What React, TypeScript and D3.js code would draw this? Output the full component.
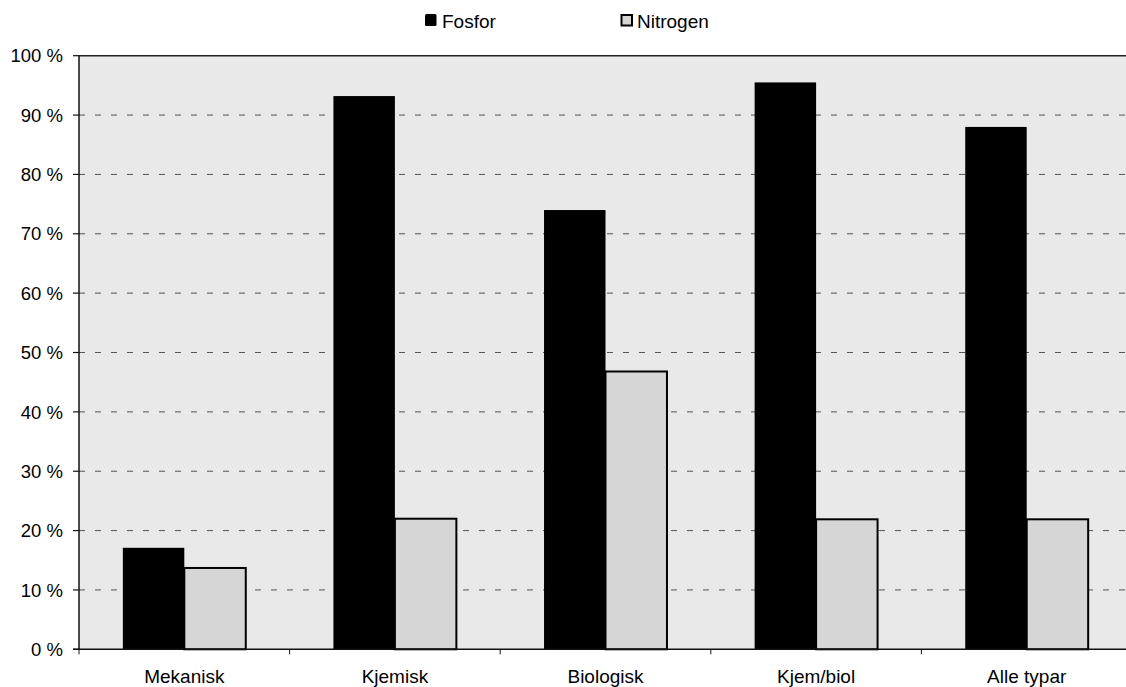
import React from "react";
import * as d3 from "d3";

const categories = ["Mekanisk", "Kjemisk", "Biologisk", "Kjem/biol", "Alle typar"];
const seriesNames = ["Fosfor", "Nitrogen"];
const fosfor = [17.1, 93.2, 74.0, 95.5, 88.0];
const nitrogen = [13.7, 22.0, 46.8, 21.9, 21.9];
const yTicks = [0, 10, 20, 30, 40, 50, 60, 70, 80, 90, 100];

const W = 1126;
const H = 687;
const left = 79;
const right = 1132;
const top = 55.7;
const bottom = 649.3;
const FONT = "'Liberation Sans', Arial, sans-serif";
const BG = "#e9e9e9";
const NFILL = "#d6d6d6";

export default function App() {
  const x = d3.scaleBand<string>().domain(categories).range([left, right]).paddingInner(0).paddingOuter(0);
  const inner = d3.scaleBand<string>().domain(seriesNames).range([0, x.bandwidth()]).paddingInner(0).paddingOuter(0.713);
  const y = d3.scaleLinear().domain([0, 100]).range([bottom, top]);
  const values: Record<string, number[]> = { Fosfor: fosfor, Nitrogen: nitrogen };

  return (
    <svg width={W} height={H} style={{ position: "absolute", left: 0, top: 0, background: "#fff" }}>
      <rect x={left} y={top} width={right - left} height={bottom - top} fill={BG} />
      {yTicks.filter((t) => t > 0 && t < 100).map((t) => (
        <line key={"g" + t} x1={left} x2={right} y1={y(t)} y2={y(t)} stroke="#555" strokeWidth={1} strokeDasharray="6 10" />
      ))}
      {categories.map((c, i) =>
        seriesNames.map((s) => {
          const v = values[s][i];
          const bx = (x(c) as number) + (inner(s) as number);
          const bw = inner.bandwidth();
          return s === "Fosfor" ? (
            <rect key={c + s} x={bx} y={y(v)} width={bw} height={bottom - y(v)} fill="#000" />
          ) : (
            <rect key={c + s} x={bx} y={y(v)} width={bw} height={bottom - y(v)} fill={NFILL} stroke="#000" strokeWidth={2} />
          );
        })
      )}
      <line x1={left} x2={right} y1={top} y2={top} stroke="#222" strokeWidth={1.5} />
      <line x1={left} x2={left} y1={top} y2={bottom} stroke="#111" strokeWidth={1.5} />
      <line x1={left - 6} x2={right} y1={bottom} y2={bottom} stroke="#111" strokeWidth={1.5} />
      {yTicks.map((t) => (
        <g key={"t" + t}>
          <line x1={left - 6} x2={left} y1={y(t)} y2={y(t)} stroke="#111" strokeWidth={1.2} />
          <text x={63} y={y(t)} dy="0.36em" textAnchor="end" fontFamily={FONT} fontSize={18.5} fill="#000">
            {t} %
          </text>
        </g>
      ))}
      {categories.map((c) => (
        <line key={"xt" + c} x1={x(c) as number} x2={x(c) as number} y1={bottom} y2={bottom + 5} stroke="#111" strokeWidth={1} />
      ))}
      {categories.map((c) => (
        <text key={"xl" + c} x={(x(c) as number) + x.bandwidth() / 2} y={683} textAnchor="middle" fontFamily={FONT} fontSize={19} fill="#000">
          {c}
        </text>
      ))}
      <g>
        <rect x={425} y={14} width={11.5} height={12} rx={1.5} fill="#000" />
        <text x={442} y={28} fontFamily={FONT} fontSize={19} fill="#000">Fosfor</text>
        <rect x={621.5} y={15} width={10.5} height={10.5} fill={NFILL} stroke="#000" strokeWidth={2} />
        <text x={637} y={28} fontFamily={FONT} fontSize={19} fill="#000">Nitrogen</text>
      </g>
    </svg>
  );
}
